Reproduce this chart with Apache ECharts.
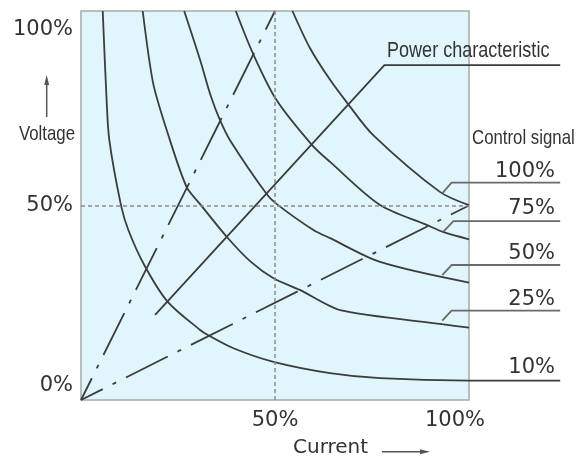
<!DOCTYPE html>
<html>
<head>
<meta charset="utf-8">
<script src="https://cdn.jsdelivr.net/npm/echarts@6/dist/echarts.min.js"></script>
<style>
html,body{margin:0;padding:0;background:#fff;}
#chart{width:586px;height:462px;}
</style>
</head>
<body>
<div id="chart"></div>
<script>
// ---- data (percent of full scale) ----
const xTickValues = [50, 100];
const xTickLabels = ['50%', '100%'];
const yTickValues = [0, 50, 100];
const yTickLabels = ['0%', '50%', '100%'];
const signalLabels = ['100%', '75%', '50%', '25%', '10%'];
const plotRange = [0, 100];      // the shaded operating area (both axes)
const labelEdge = 123.5;         // right end of the label leader lines (current %)

// current (%) , voltage (%) for each control-signal curve
const curve10 = [[5.6,100],[6.6,77.1],[7.3,66.8],[10.3,50.1],[12.2,43.7],[16.3,34.7],[22.3,25.3],[30.7,18.0],[32.7,16.7],[39.3,13.3],[49.6,9.8],[64.2,6.9],[77.1,5.6],[100,5.0],[123.5,5.0]];
const curve25 = [[15.9,100],[18.6,81.4],[22.5,68.1],[27.2,54.8],[30.9,50.1],[37.6,41.9],[43.8,35.5],[49.6,31.3],[56.4,28.3],[66.8,23.1],[93.0,19.5],[100,18.6]];
const curve50 = [[26.6,100],[30.7,87.4],[33.5,78.0],[35.8,72.0],[38.4,66.8],[47.9,52.9],[50.8,50.1],[59.9,43.7],[64.2,41.6],[77.1,35.5],[100,30.2]];
const curve75 = [[39.9,100],[44.4,88.9],[50.4,77.1],[59.5,65.6],[64.2,61.2],[77.1,50.1],[89.1,45.0],[93.3,43.2],[100,41.3]];
const curve100 = [[54.5,100],[59.0,90.5],[64.2,82.3],[68.9,76.0],[75.3,68.1],[92.5,53.5],[100,50.1]];

const guideRise = [[0,0],[50,100]];
const guideFlat = [[0,0],[100,50]];
const powerLine = [[19.1,21.9],[78.2,86.1],[123.5,86.1]];

const lead100 = [[93.1,53.1],[95.5,55.9],[123.5,55.9]];
const lead75 = [[93.4,43.3],[96.0,46.0],[123.5,46.0]];
const lead50 = [[93.1,32.1],[95.5,34.7],[123.5,34.7]];
const lead25 = [[93.1,20.4],[95.5,23.0],[123.5,23.0]];

// ---- chart ----
const chart = echarts.init(document.getElementById('chart'), null, {renderer: 'canvas'});
const INK = '#3c3c3c';
const TXT = '#333333';
const NUMFONT = 'DejaVu Sans';
const SANS = "'Liberation Sans', Arial, sans-serif";

function curveSeries(data, extra) {
  return Object.assign({
    type: 'line', data: data, showSymbol: false, symbol: 'none', smooth: 0.3,
    clip: false, silent: true, z: 3,
    lineStyle: {color: INK, width: 1.8}
  }, extra || {});
}
function leaderSeries(data) {
  return {type: 'line', data: data, showSymbol: false, symbol: 'none', clip: false, silent: true, z: 3,
    lineStyle: {color: '#6a6a6a', width: 1.8}};
}
const dashDot = {color: INK, width: 1.8, type: [46.7, 11, 4, 11], dashOffset: 22.4};

function txt(x, y, text, font, align, scaleX) {
  return {type: 'text', x: x, y: y, z: 100, scaleX: scaleX || 1, silent: true,
    style: {text: text, font: font, fill: TXT, align: align, verticalAlign: 'middle'}};
}

const option = {
  animation: false,
  grid: {left: 81, top: 11, width: 388 * labelEdge / 100, height: 389, show: false,
    containLabel: false, outerBoundsMode: 'none'},
  xAxis: {
    type: 'value', min: 0, max: labelEdge,
    axisLine: {show: false}, axisTick: {show: false}, splitLine: {show: false},
    axisLabel: {
      customValues: xTickValues, margin: 10, color: TXT, fontFamily: NUMFONT, fontSize: 21,
      formatter: function (v) {
        const t = xTickLabels[xTickValues.indexOf(v)];
        return v === 100 ? '{r|' + t + '}' : '{n|' + t + '}';
      },
      rich: {n: {fontFamily: NUMFONT, fontSize: 21, color: TXT},
             r: {fontFamily: NUMFONT, fontSize: 21, color: TXT, padding: [0, 28, 0, 0]}}
    }
  },
  yAxis: {
    type: 'value', min: 0, max: 100,
    axisLine: {show: false}, axisTick: {show: false}, splitLine: {show: false},
    axisLabel: {
      customValues: yTickValues, margin: 8, color: TXT, fontFamily: NUMFONT, fontSize: 21,
      formatter: function (v) {
        const t = yTickLabels[yTickValues.indexOf(v)];
        if (v === 100) return '{t|' + t + '}';
        if (v === 0) return '{b|' + t + '}';
        return '{n|' + t + '}';
      },
      rich: {n: {fontFamily: NUMFONT, fontSize: 21, color: TXT},
             t: {fontFamily: NUMFONT, fontSize: 21, color: TXT, padding: [38, 0, 0, 0]},
             b: {fontFamily: NUMFONT, fontSize: 21, color: TXT, padding: [0, 0, 28, 0]}}
    }
  },
  series: [
    {type: 'line', data: [], silent: true, z: 1,
     markArea: {silent: true, label: {show: false},
       itemStyle: {color: '#e1f5fc', borderColor: '#a9a9a9', borderWidth: 1.5},
       data: [[{coord: [plotRange[0], plotRange[0]]}, {coord: [plotRange[1], plotRange[1]]}]]}},
    {type: 'line', data: [], silent: true, z: 2,
     markLine: {silent: true, symbol: 'none', label: {show: false},
       lineStyle: {type: [4, 3], color: '#8a8a8a', width: 1.5},
       data: [
         [{coord: [50, plotRange[0]]}, {coord: [50, plotRange[1]]}],
         [{coord: [plotRange[0], 50]}, {coord: [plotRange[1], 50]}]
       ]}},
    curveSeries(guideRise, {smooth: false, lineStyle: dashDot}),
    curveSeries(guideFlat, {smooth: false, lineStyle: dashDot}),
    curveSeries(curve10),
    curveSeries(curve25, {smooth: 0.25}),
    curveSeries(curve50),
    curveSeries(curve75),
    curveSeries(curve100),
    curveSeries(powerLine, {smooth: false}),
    leaderSeries(lead100),
    leaderSeries(lead75),
    leaderSeries(lead50),
    leaderSeries(lead25)
  ],
  graphic: [
    txt(387, 51, 'Power characteristic', '22px ' + SANS, 'left', 0.82),
    txt(472, 138, 'Control signal', '21px ' + SANS, 'left', 0.8),
    txt(555, 172, signalLabels[0], '21px ' + NUMFONT, 'right'),
    txt(555, 209, signalLabels[1], '21px ' + NUMFONT, 'right'),
    txt(555, 254, signalLabels[2], '21px ' + NUMFONT, 'right'),
    txt(555, 300, signalLabels[3], '21px ' + NUMFONT, 'right'),
    txt(555, 368, signalLabels[4], '21px ' + NUMFONT, 'right'),
    txt(47, 134, 'Voltage', '21px ' + SANS, 'center', 0.8),
    txt(293, 448, 'Current', '20px ' + NUMFONT, 'left'),
    {type: 'line', z: 100, silent: true, shape: {x1: 46.7, y1: 117, x2: 46.7, y2: 82}, style: {stroke: '#555', lineWidth: 1.5}},
    {type: 'polygon', z: 100, silent: true, shape: {points: [[46.7, 75], [44.2, 85], [49.2, 85]]}, style: {fill: '#555'}},
    {type: 'line', z: 100, silent: true, shape: {x1: 382, y1: 451.7, x2: 423, y2: 451.7}, style: {stroke: '#555', lineWidth: 1.5}},
    {type: 'polygon', z: 100, silent: true, shape: {points: [[430, 451.7], [420, 449.2], [420, 454.2]]}, style: {fill: '#555'}}
  ]
};
chart.setOption(option);
</script>
</body>
</html>
